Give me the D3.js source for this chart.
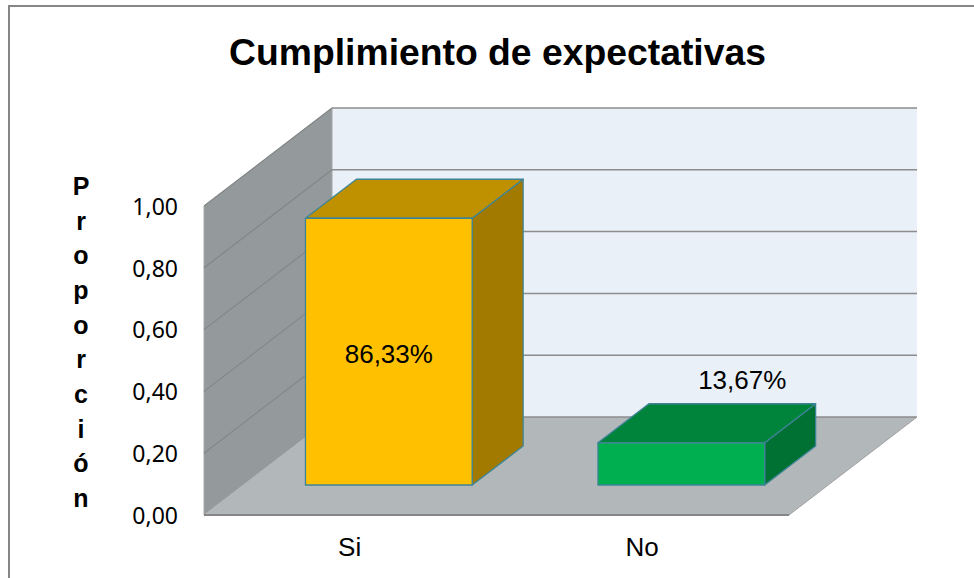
<!DOCTYPE html>
<html><head><meta charset="utf-8">
<script src="https://cdn.jsdelivr.net/npm/d3@7"></script>
<style>html,body{margin:0;padding:0;background:#fff;overflow:hidden}svg{display:block}text{font-family:"Liberation Sans",Arial,sans-serif;fill:#000}</style>
</head><body><svg id="c" width="974" height="578"></svg>
<script>
const categories = ["Si", "No"];
const values = [0.8633, 0.1367];
const valueLabels = ["86,33%", "13,67%"];
const yTicks = [0, 0.2, 0.4, 0.6, 0.8, 1.0];
const title = "Cumplimiento de expectativas";
const axisLetters = ["P","r","o","p","o","r","c","i","ó","n"];
const frontColors = ["#FFC000", "#00B050"];
const topColors = ["#BF9000", "#00843C"];
const sideColors = ["#A37A00", "#007033"];

const svg = d3.select("#c");
const y = d3.scaleLinear().domain([0, 1]).range([515, 206]);
const x = d3.scaleBand().domain(categories).range([203.4, 788.4]).paddingInner(0.43).paddingOuter(0.215);
const depthX = d3.scaleLinear().domain([0, 1]).range([0, 128]);
const depthY = d3.scaleLinear().domain([0, 1]).range([0, -98]);
const proj = (px, v, d) => [px + depthX(d), y(v) + depthY(d)];
const poly = pts => "M" + pts.map(p => p.join(",")).join("L") + "Z";
const xL = 204, xR = 789;

svg.append("rect").attr("x", 9).attr("y", 6).attr("width", 1000).attr("height", 620)
  .attr("fill", "#fff").attr("stroke", "#868686").attr("stroke-width", 2);

// back wall, side wall, floor
svg.append("path").attr("d", poly([proj(xL,1,1), proj(xR,1,1), proj(xR,0,1), proj(xL,0,1)])).attr("fill", "#E9F0F8");
svg.append("path").attr("d", poly([proj(xL,0,0), proj(xL,1,0), proj(xL,1,1), proj(xL,0,1)])).attr("fill", "#949A9B").attr("stroke", "#A6A6A6").attr("stroke-width", 1);
svg.append("path").attr("d", poly([proj(xL,0,0), proj(xR,0,0), proj(xR,0,1), proj(xL,0,1)])).attr("fill", "#B2B7BA");

// gridlines
yTicks.forEach(t => {
  const a = proj(xL,t,0), b = proj(xL,t,1), c = proj(xR,t,1);
  if (t > 0) svg.append("line").attr("x1",a[0]).attr("y1",a[1]).attr("x2",b[0]).attr("y2",b[1]).attr("stroke","#808586").attr("stroke-width",1.1);
  svg.append("line").attr("x1",b[0]).attr("y1",b[1]).attr("x2",c[0]).attr("y2",c[1]).attr("stroke","#8C8C8C").attr("stroke-width",1.5);
});
const f0 = proj(xL,0,0), f1 = proj(xR,0,0), f2 = proj(xR,0,1);
svg.append("line").attr("x1",f0[0]).attr("y1",f0[1]).attr("x2",f1[0]).attr("y2",f1[1]).attr("stroke","#868686").attr("stroke-width",1.8);
svg.append("line").attr("x1",f1[0]).attr("y1",f1[1]).attr("x2",f2[0]).attr("y2",f2[1]).attr("stroke","#A0A0A0").attr("stroke-width",1);

// bars
const dFront = 0.306, dBack = 0.704;
categories.forEach((c, i) => {
  const l = x(c), r = l + x.bandwidth(), v = values[i];
  const g = svg.append("g").attr("stroke", "#3E8496").attr("stroke-width", 1.3).attr("stroke-linejoin", "round");
  g.append("path").attr("d", poly([proj(r,0,dFront), proj(r,v,dFront), proj(r,v,dBack), proj(r,0,dBack)])).attr("fill", sideColors[i]);
  g.append("path").attr("d", poly([proj(l,v,dFront), proj(r,v,dFront), proj(r,v,dBack), proj(l,v,dBack)])).attr("fill", topColors[i]);
  g.append("path").attr("d", poly([proj(l,0,dFront), proj(r,0,dFront), proj(r,v,dFront), proj(l,v,dFront)])).attr("fill", frontColors[i]);
});

// value labels
const labelPos = [proj(x("Si") + x.bandwidth()/2, values[0]*0.5, dFront), proj(x("No") + x.bandwidth()/2, values[1], dBack)];
const labelDx = [0, 10];
const labelDy = [11.5, -15];
valueLabels.forEach((t, i) => {
  svg.append("text").attr("x", labelPos[i][0] + labelDx[i]).attr("y", labelPos[i][1] + labelDy[i])
    .attr("text-anchor","middle").attr("font-size",26).text(t);
});

// axes
yTicks.forEach(t => {
  svg.append("text").attr("x", 178).attr("y", y(t) + 8.7).attr("text-anchor","end").attr("font-size",23)
    .style("font-family", '"Noto Sans",sans-serif').text(d3.format(".2f")(t).replace(".", ","));
});
categories.forEach(c => {
  svg.append("text").attr("x", x(c) + x.bandwidth()/2).attr("y", 556).attr("text-anchor","middle").attr("font-size",26).text(c);
});
axisLetters.forEach((t, i) => {
  svg.append("text").attr("x", 81).attr("y", 195 + i * 34.67).attr("text-anchor","middle").attr("font-size",25).attr("font-weight","bold").text(t);
});
svg.append("text").attr("x", 497.5).attr("y", 65).attr("text-anchor","middle").attr("font-size",37.3).attr("font-weight","bold").text(title);
</script></body></html>
